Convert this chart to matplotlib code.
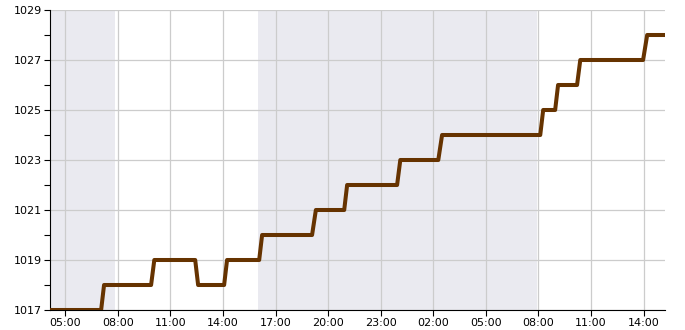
import matplotlib
matplotlib.use("Agg")
import matplotlib.pyplot as plt
import matplotlib.dates as mdates
import pandas as pd

# pressure readings (hPa), step changes
times = ["2024-01-01 04:08", "2024-01-01 07:03", "2024-01-01 07:13",
         "2024-01-01 09:54", "2024-01-01 10:05", "2024-01-01 12:25",
         "2024-01-01 12:35", "2024-01-01 14:04", "2024-01-01 14:14",
         "2024-01-01 16:04", "2024-01-01 16:14", "2024-01-01 19:05",
         "2024-01-01 19:18", "2024-01-01 20:55", "2024-01-01 21:05",
         "2024-01-01 23:56", "2024-01-02 00:07", "2024-01-02 02:17",
         "2024-01-02 02:30", "2024-01-02 08:06", "2024-01-02 08:16",
         "2024-01-02 08:57", "2024-01-02 09:07", "2024-01-02 10:12",
         "2024-01-02 10:23", "2024-01-02 13:58", "2024-01-02 14:12",
         "2024-01-02 15:13"]
pressure = [1017, 1017, 1018,
            1018, 1019, 1019,
            1018, 1018, 1019,
            1019, 1020, 1020,
            1021, 1021, 1022,
            1022, 1023, 1023,
            1024, 1024, 1025,
            1025, 1026, 1026,
            1027, 1027, 1028,
            1028]

# night periods
night_start = ["2024-01-01 04:08", "2024-01-01 16:01"]
night_end = ["2024-01-01 07:52", "2024-01-02 07:54"]

x_start = pd.Timestamp("2024-01-01 04:08")
x_end = pd.Timestamp("2024-01-02 15:13")

t = pd.to_datetime(times)

fig = plt.figure(figsize=(6.85, 3.30), dpi=100)
ax = fig.add_axes([50/685, 20/330, 615/685, 300/330])

for a, b in zip(night_start, night_end):
    ax.axvspan(pd.Timestamp(a), pd.Timestamp(b), color="#eaeaf0", lw=0, zorder=0)

ax.plot(t, pressure, color="#663300", lw=2.9, solid_capstyle="butt", zorder=3)

ax.set_xlim(x_start, x_end)
ax.set_ylim(1017, 1029)
ax.set_yticks(range(1017, 1030, 2))
ax.set_yticks(range(1018, 1029, 2), minor=True)
ax.xaxis.set_major_locator(mdates.HourLocator(byhour=[2, 5, 8, 11, 14, 17, 20, 23]))
ax.xaxis.set_major_formatter(mdates.DateFormatter("%H:%M"))

ax.grid(True, which="major", color="#cccccc", lw=0.9, zorder=1)
ax.set_axisbelow(True)
for s in ["top", "right"]:
    ax.spines[s].set_visible(False)
ax.tick_params(labelsize=8, length=4, width=0.8, pad=2)
ax.tick_params(which="minor", length=4, width=0.8)

plt.savefig("out.png", dpi=100)
